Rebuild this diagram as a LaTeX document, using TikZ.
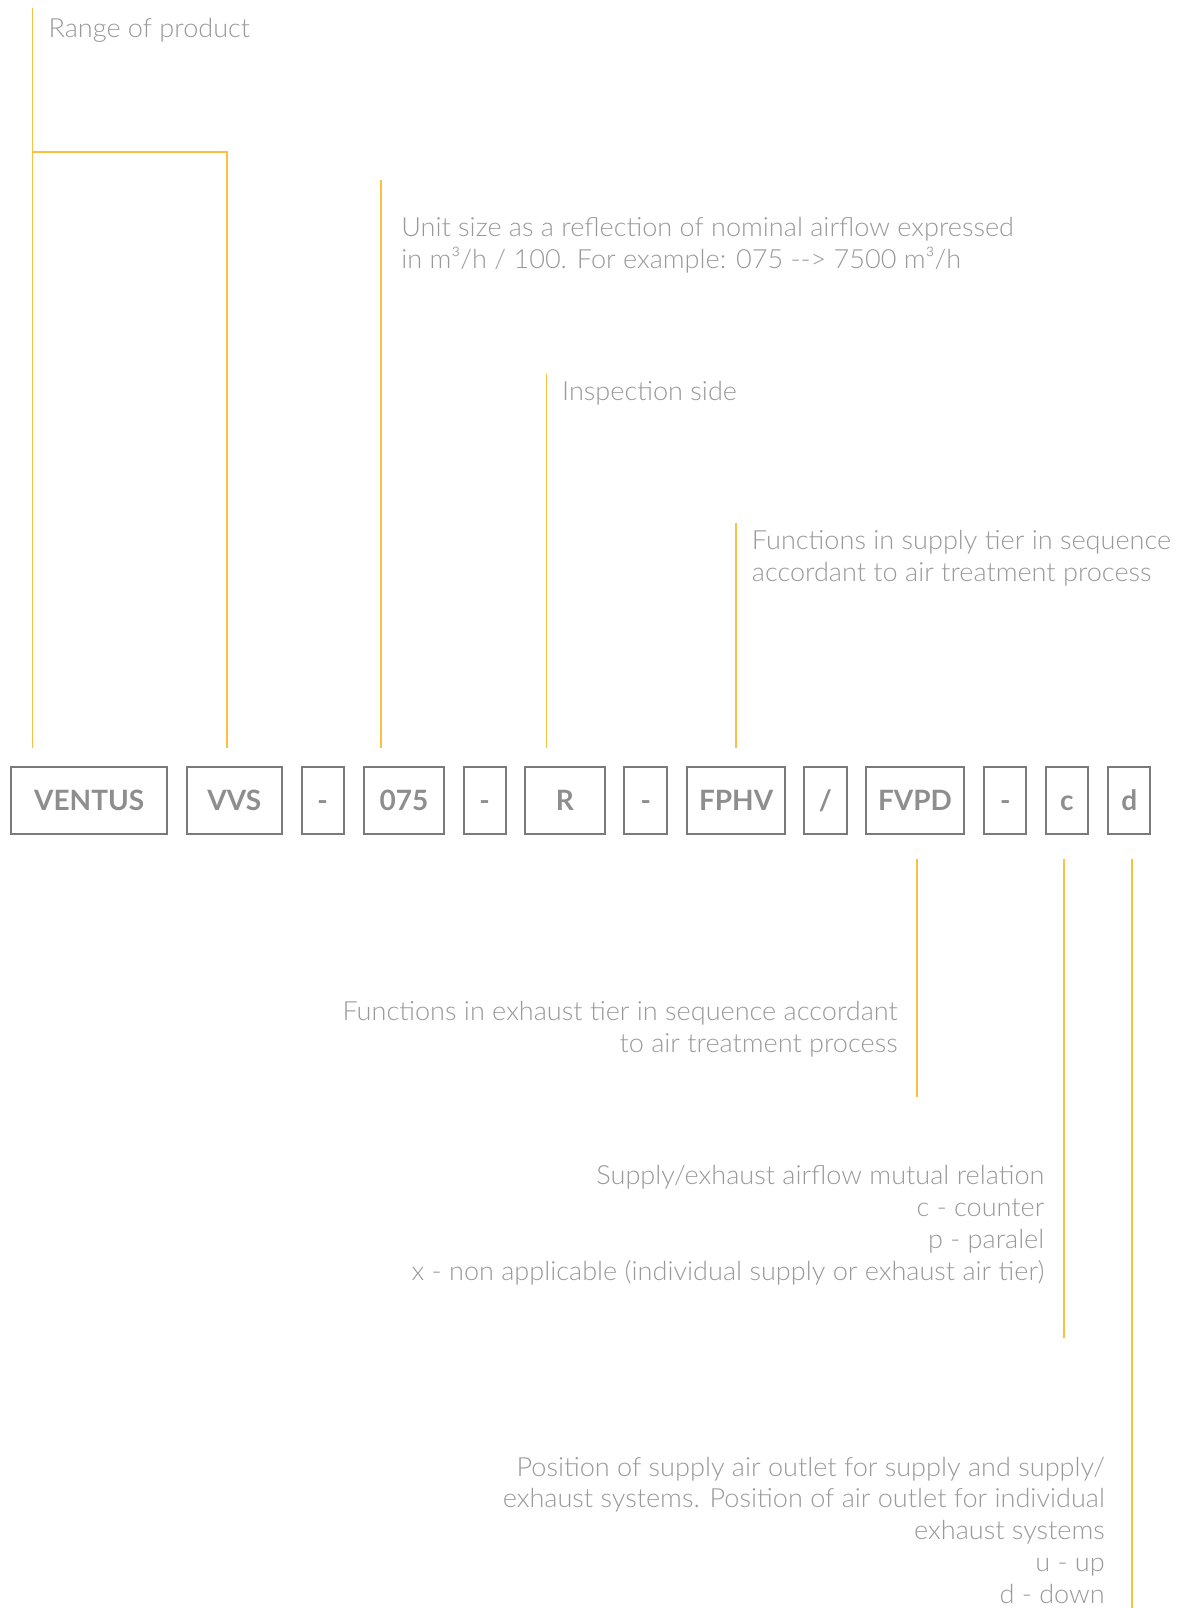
\documentclass[tikz,border=0pt]{standalone}
\usepackage{fontspec}
\setmainfont{Lato}[UprightFont=* Light, BoldFont=* Bold, UprightFeatures={FakeStretch=1.026}]
\definecolor{lineyellow}{HTML}{FCBF3F}
\definecolor{boxgray}{HTML}{7A7A7A}
\definecolor{codegray}{HTML}{8E8E8E}
\definecolor{txtgray}{HTML}{999999}
\setlength{\tabcolsep}{0pt}
\newcommand{\lbl}[2]{\begin{tabular}[t]{@{}#1@{}}#2\end{tabular}}
\begin{document}
\begin{tikzpicture}[x=0.5pt,y=-0.5pt,
  codebox/.style={draw=boxgray, line width=1pt, minimum height=33.8pt, inner sep=0pt,
    text height=10.1pt, text depth=0pt,
    font=\bfseries\fontsize{14}{16}\selectfont, text=codegray},
  lead/.style={draw=lineyellow, line width=0.8pt},
  above gap/.style={shorten >=8.8pt},
  below gap/.style={shorten <=12pt},
  desc/.style={inner sep=0pt, text=txtgray, font=\fontsize{13.2}{15.9}\selectfont}]
\useasboundingbox[fill=white] (0,0) rectangle (1179,1608);

% code boxes
\node[codebox, minimum width=77.9pt] (VENTUS) at (89.2,800.6) {VENTUS};
\node[codebox, minimum width=47.7pt] (VVS) at (234.3,800.6) {VVS};
\node[codebox, minimum width=21pt] (d1) at (322.5,800.6) {-};
\node[codebox, minimum width=40pt] (size) at (404,800.6) {075};
\node[codebox, minimum width=21pt] (d2) at (484.5,800.6) {-};
\node[codebox, minimum width=40pt] (R) at (564.9,800.6) {R};
\node[codebox, minimum width=21.5pt] (d3) at (645.9,800.6) {-};
\node[codebox, minimum width=49.2pt] (FPHV) at (736.1,800.6) {FPHV};
\node[codebox, minimum width=21.5pt] (slash) at (825.3,800.6) {/};
\node[codebox, minimum width=48.7pt] (FVPD) at (915,800.6) {FVPD};
\node[codebox, minimum width=21pt] (d4) at (1005.3,800.6) {-};
\node[codebox, minimum width=21pt] (cc) at (1066.8,800.6) {c};
\node[codebox, minimum width=21pt] (dd) at (1129.3,800.6) {d};

% descriptions
\node[desc, anchor=base west] (range) at (48.2,37) {Range of product};
\node[desc, anchor=base west] (unit) at (400.9,236.6)
  {\lbl{l}{Unit size as a reflection of nominal airflow expressed\\in m³/h / 100. For example: 075 -{}-> 7500 m³/h}};
\node[desc, anchor=base west] (insp) at (561.8,400.6) {Inspection side};
\node[desc, anchor=base west] (supply) at (751.5,549.3)
  {\lbl{l}{Functions in supply tier in sequence\\accordant to air treatment process}};
\node[desc, anchor=base east] (exhaust) at (898,1020.9)
  {\lbl{r}{Functions in exhaust tier in sequence accordant\\to air treatment process}};
\node[desc, anchor=base east] (relation) at (1044.7,1184.9)
  {\lbl{r}{Supply/exhaust airflow mutual relation\\c - counter\\p - paralel\\x - non applicable (individual supply or exhaust air tier)}};
\node[desc, anchor=base east] (position) at (1105.2,1476)
  {\lbl{r}{Position of supply air outlet for supply and supply/\\exhaust systems. Position of air outlet for individual\\exhaust systems\\u - up\\d - down}};

% leader line end points
\coordinate (rangetop) at (32.5,8);
\coordinate (rangeknee) at (32.5,152);
\coordinate (vvsknee) at (227,152);
\coordinate (sizetop) at (381,180);
\coordinate (insptop) at (546.4,374);
\coordinate (supplytop) at (736,523);
\coordinate (exhaustend) at (916.7,1096.7);
\coordinate (relationend) at (1064,1338.3);
\coordinate (positionend) at (1132,1608);

% leader lines
\draw[lead, above gap] (rangetop) -- (rangetop |- VENTUS.north);
\draw[lead, above gap] (rangeknee) -- (vvsknee) -- (vvsknee |- VVS.north);
\draw[lead, above gap] (sizetop) -- (sizetop |- size.north);
\draw[lead, above gap] (insptop) -- (insptop |- R.north);
\draw[lead, above gap] (supplytop) -- (supplytop |- FPHV.north);
\draw[lead, below gap] (exhaustend |- FVPD.south) -- (exhaustend);
\draw[lead, below gap] (relationend |- cc.south) -- (relationend);
\draw[lead, below gap] (positionend |- dd.south) -- (positionend);
\end{tikzpicture}
\end{document}
